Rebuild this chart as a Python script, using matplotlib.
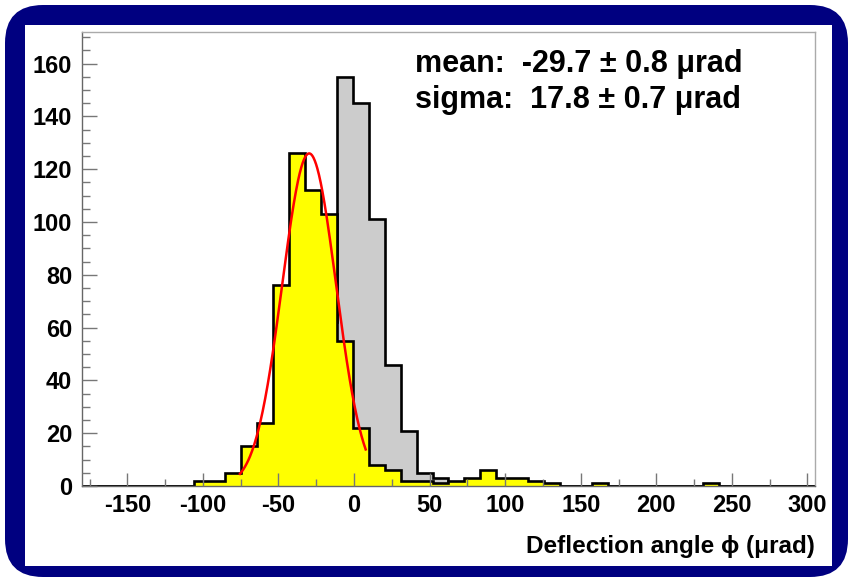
import matplotlib
matplotlib.use('Agg')
import matplotlib.pyplot as plt
import numpy as np
from matplotlib.patches import FancyBboxPatch, Rectangle
from matplotlib.ticker import MultipleLocator

plt.rcParams['font.family'] = ['Liberation Sans', 'DejaVu Sans']
plt.rcParams['axes.unicode_minus'] = False

# histogram binning (46 bins over the axis range)
hist_range = (-180, 305)
n_bins = 46

# counts per bin: yellow = deflected sample, gray = reference sample
yellow_counts = [0, 0, 0, 0, 0, 0, 0, 2, 2, 5,
                 15, 24, 76, 126, 112, 103, 55, 22, 8, 6,
                 2, 2, 1, 2, 3, 6, 3, 3, 2, 1,
                 0, 0, 1, 0, 0, 0, 0, 0, 0, 1,
                 0, 0, 0, 0, 0, 0]
gray_counts = [0, 0, 0, 0, 0, 0, 0, 0, 0, 0,
               1, 2, 6, 14, 30, 62, 155, 145, 101, 46,
               21, 5, 3, 1, 1, 0, 0, 0, 0, 0,
               0, 0, 0, 0, 0, 0, 0, 0, 0, 0,
               0, 0, 0, 0, 0, 0]

# gaussian fit
fit_amp = 126
fit_mean = -29.7
fit_mean_err = 0.8
fit_sigma = 17.8
fit_sigma_err = 0.7
fit_range = (-75.5, 7.7)

edges = np.linspace(hist_range[0], hist_range[1], n_bins + 1)

fig = plt.figure(figsize=(8.5, 5.82), dpi=100)
fig.patch.set_facecolor('white')

# navy rounded frame with white panel inside
frame = FancyBboxPatch((0.05, 0.05), 8.43, 5.72,
                       boxstyle='round,pad=0,rounding_size=0.38',
                       transform=fig.dpi_scale_trans, facecolor='#000080',
                       edgecolor='none', zorder=-2)
fig.patches.append(frame)
panel = Rectangle((0.25, 0.16), 8.07, 5.41, transform=fig.dpi_scale_trans,
                  facecolor='white', edgecolor='none', zorder=-1)
fig.patches.append(panel)

ax = fig.add_axes([82 / 850, 1 - 486 / 582, 733 / 850, 454 / 582])
ax.set_facecolor('none')
ax.set_zorder(1)

ax.stairs(gray_counts, edges, fill=True, color='#cccccc', zorder=1)
ax.stairs(gray_counts, edges, fill=False, color='black', linewidth=1.9, zorder=1.1)
ax.stairs(yellow_counts, edges, fill=True, color='#ffff00', zorder=1.2)
ax.stairs(yellow_counts, edges, fill=False, color='black', linewidth=1.9, zorder=1.3)

xf = np.linspace(fit_range[0], fit_range[1], 300)
yf = fit_amp * np.exp(-0.5 * ((xf - fit_mean) / fit_sigma) ** 2)
ax.plot(xf, yf, color='#ff0000', linewidth=1.8, zorder=2)

ax.set_xlim(hist_range)
ax.set_ylim(0, 172)
ax.set_axisbelow(False)

ax.xaxis.set_major_locator(MultipleLocator(50))
ax.xaxis.set_minor_locator(MultipleLocator(25))
ax.yaxis.set_major_locator(MultipleLocator(20))
ax.yaxis.set_minor_locator(MultipleLocator(5))
ax.tick_params(which='both', direction='in', color='#777777', width=1.0,
               top=False, right=False)
ax.tick_params(axis='x', which='major', length=9.5, pad=6)
ax.tick_params(axis='x', which='minor', length=4.7)
ax.tick_params(axis='y', which='major', length=10.8, pad=7)
ax.tick_params(axis='y', which='minor', length=5.4)
for lab in ax.get_xticklabels() + ax.get_yticklabels():
    lab.set_fontsize(17)
    lab.set_fontweight('bold')

for side in ['top', 'right']:
    ax.spines[side].set_color('#aaaaaa')
for side in ['left', 'bottom']:
    ax.spines[side].set_color('#666666')
for sp in ax.spines.values():
    sp.set_linewidth(1.0)

ax.text(0.454, 0.929, 'mean:  %.1f \u00b1 %.1f \u03bcrad' % (fit_mean, fit_mean_err),
        transform=ax.transAxes, fontsize=22, fontweight='bold',
        ha='left', va='center')
ax.text(0.454, 0.850, 'sigma:  %.1f \u00b1 %.1f \u03bcrad' % (fit_sigma, fit_sigma_err),
        transform=ax.transAxes, fontsize=22, fontweight='bold',
        ha='left', va='center')

fig.text(815 / 850, 1 - 547 / 582, 'Deflection angle \u03d5 (\u03bcrad)',
         fontsize=17.5, fontweight='bold', ha='right', va='center')

plt.savefig('out.png', dpi=100)
